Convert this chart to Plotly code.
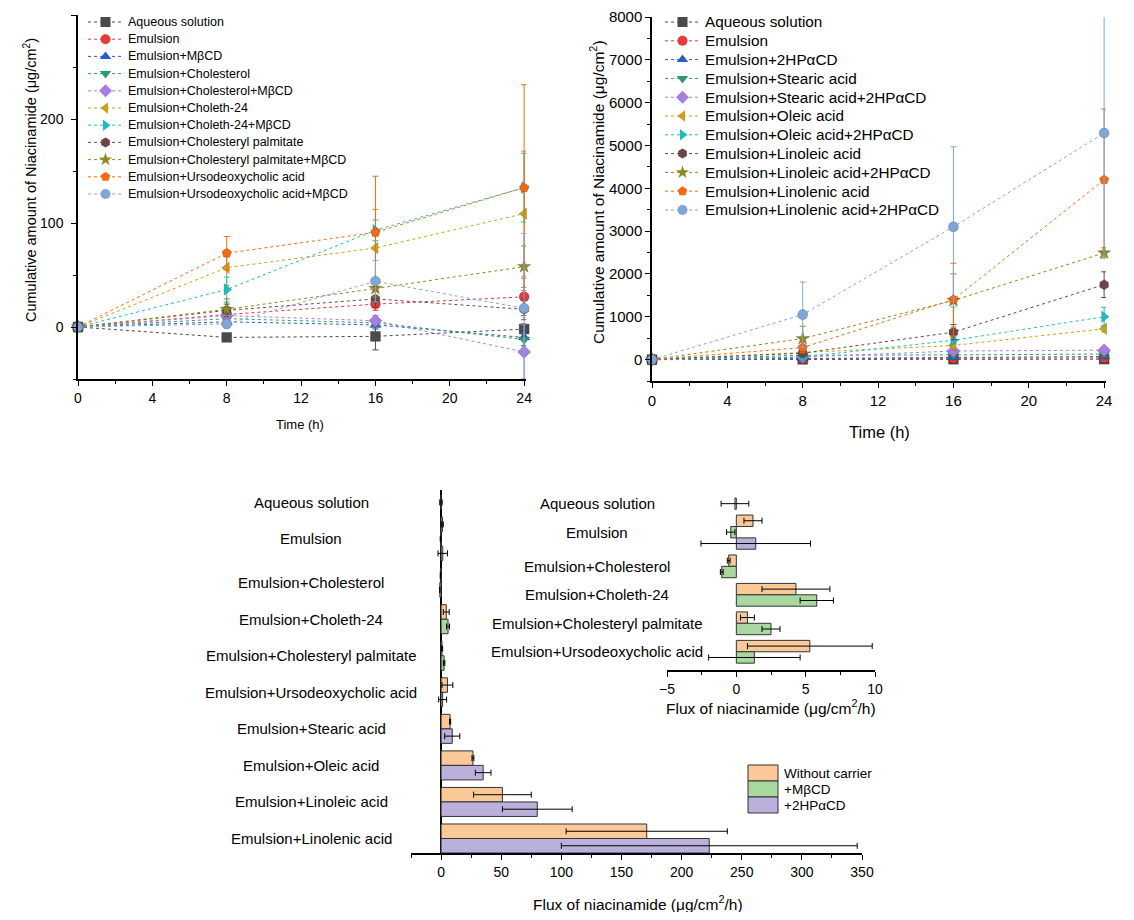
import plotly.graph_objects as go

W, H = 1134, 920          # reference picture size
OFF = 8                   # browser body margin
FW, FH = W - 2 * OFF, H - 2 * OFF
FONT = "Liberation Sans, Arial, Helvetica, sans-serif"

# ------------------------------------------------------------------ data
time_h = [0, 8, 16, 24]

# Top-left panel (cholesterol derivatives, MβCD)
tl_labels = ["Aqueous solution", "Emulsion", "Emulsion+MβCD", "Emulsion+Cholesterol",
             "Emulsion+Cholesterol+MβCD", "Emulsion+Choleth-24", "Emulsion+Choleth-24+MβCD",
             "Emulsion+Cholesteryl palmitate", "Emulsion+Cholesteryl palmitate+MβCD",
             "Emulsion+Ursodeoxycholic acid", "Emulsion+Ursodeoxycholic acid+MβCD"]
tl_aqueous = [0, -10, -9, -2]
tl_emulsion = [0, 12, 22, 29]
tl_mbcd = [0, 5, 2, -10]
tl_chol = [0, 8, 4, -12]
tl_chol_mbcd = [0, 11, 6, -24]
tl_choleth = [0, 57, 76, 109]
tl_choleth_mbcd = [0, 36, 93, 134]
tl_palm = [0, 16, 27, 17]
tl_palm_mbcd = [0, 17, 37, 58]
tl_urso = [0, 71, 91, 134]
tl_urso_mbcd = [0, 3, 44, 18]
tl_aqueous_err = [0, 3, 13, 5]
tl_emulsion_err = [0, 4, 6, 18]
tl_mbcd_err = [0, 3, 4, 8]
tl_chol_err = [0, 3, 5, 6]
tl_chol_mbcd_err = [0, 4, 5, 26]
tl_choleth_err = [0, 17, 37, 60]
tl_choleth_mbcd_err = [0, 12, 10, 33]
tl_palm_err = [0, 6, 8, 10]
tl_palm_mbcd_err = [0, 10, 8, 20]
tl_urso_err = [0, 16, 54, 99]
tl_urso_mbcd_err = [0, 4, 20, 72]

# Top-right panel (fatty acids, 2HPαCD)
tr_labels = ["Aqueous solution", "Emulsion", "Emulsion+2HPαCD", "Emulsion+Stearic acid",
             "Emulsion+Stearic acid+2HPαCD", "Emulsion+Oleic acid", "Emulsion+Oleic acid+2HPαCD",
             "Emulsion+Linoleic acid", "Emulsion+Linoleic acid+2HPαCD",
             "Emulsion+Linolenic acid", "Emulsion+Linolenic acid+2HPαCD"]
tr_aqueous = [0, 5, 8, 10]
tr_emulsion = [0, 20, 30, 40]
tr_hpacd = [0, 30, 50, 70]
tr_stearic = [0, 100, 110, 130]
tr_stearic_hp = [0, 60, 200, 220]
tr_oleic = [0, 170, 330, 720]
tr_oleic_hp = [0, 60, 450, 1000]
tr_linoleic = [0, 150, 640, 1750]
tr_linoleic_hp = [0, 490, 1380, 2490]
tr_linolenic = [0, 280, 1400, 4200]
tr_linolenic_hp = [0, 1050, 3100, 5290]
tr_aqueous_err = [0, 3, 5, 6]
tr_emulsion_err = [0, 8, 10, 15]
tr_hpacd_err = [0, 10, 20, 30]
tr_stearic_err = [0, 20, 30, 40]
tr_stearic_hp_err = [0, 20, 40, 50]
tr_oleic_err = [0, 30, 60, 80]
tr_oleic_hp_err = [0, 20, 80, 220]
tr_linoleic_err = [0, 40, 180, 300]
tr_linoleic_hp_err = [0, 290, 620, 120]
tr_linolenic_err = [0, 120, 850, 1650]
tr_linolenic_hp_err = [0, 760, 1870, 2850]

# Bottom panel (flux)
bar_categories = ["Aqueous solution", "Emulsion", "Emulsion+Cholesterol", "Emulsion+Choleth-24",
                  "Emulsion+Cholesteryl palmitate", "Emulsion+Ursodeoxycholic acid",
                  "Emulsion+Stearic acid", "Emulsion+Oleic acid", "Emulsion+Linoleic acid",
                  "Emulsion+Linolenic acid"]
bar_series = ["Without carrier", "+MβCD", "+2HPαCD"]
flux_none = [-0.1, 1.2, -0.55, 4.3, 0.8, 5.3, 7.5, 26.5, 51, 171]
flux_none_err = [1.0, 0.65, 0.1, 2.45, 0.5, 4.5, 0.5, 0.8, 24, 67]
flux_mbcd = [None, -0.4, -1.05, 5.8, 2.5, 1.3, None, None, None, None]
flux_mbcd_err = [0, 0.3, 0.1, 1.2, 0.65, 3.3, 0, 0, 0, 0]
flux_hpacd = [None, 1.4, None, None, None, None, 9.3, 35, 80, 223]
flux_hpacd_err = [0, 3.95, 0, 0, 0, 0, 6.3, 6.5, 29, 123]
inset_n = 6  # first categories shown in the zoomed inset

# ------------------------------------------------------------------ styles
colors = ["#4a4a4a", "#e8393b", "#2060c8", "#2e9b6a", "#a47fe0", "#cfa015",
          "#1cbfbf", "#6e4646", "#8c8a20", "#f56a10", "#7fa7d6"]
symbols = ["square", "circle", "triangle-up", "triangle-down", "diamond", "triangle-left",
           "triangle-right", "hexagon", "star", "pentagon", "circle"]
bar_colors = ["#fbc897", "#a8d8a0", "#bbb0db"]


def px(x):
    return (x - OFF) / FW


def py(y):
    return 1 - (y - OFF) / FH


fig = go.Figure()

tl_vals = [tl_aqueous, tl_emulsion, tl_mbcd, tl_chol, tl_chol_mbcd, tl_choleth,
           tl_choleth_mbcd, tl_palm, tl_palm_mbcd, tl_urso, tl_urso_mbcd]
tl_errs = [tl_aqueous_err, tl_emulsion_err, tl_mbcd_err, tl_chol_err, tl_chol_mbcd_err,
           tl_choleth_err, tl_choleth_mbcd_err, tl_palm_err, tl_palm_mbcd_err, tl_urso_err,
           tl_urso_mbcd_err]
tr_vals = [tr_aqueous, tr_emulsion, tr_hpacd, tr_stearic, tr_stearic_hp, tr_oleic,
           tr_oleic_hp, tr_linoleic, tr_linoleic_hp, tr_linolenic, tr_linolenic_hp]
tr_errs = [tr_aqueous_err, tr_emulsion_err, tr_hpacd_err, tr_stearic_err, tr_stearic_hp_err,
           tr_oleic_err, tr_oleic_hp_err, tr_linoleic_err, tr_linoleic_hp_err,
           tr_linolenic_err, tr_linolenic_hp_err]

for xa, ya, names, vals, errs in [("x", "y", tl_labels, tl_vals, tl_errs),
                                  ("x2", "y2", tr_labels, tr_vals, tr_errs)]:
    for i, (nm, v, e) in enumerate(zip(names, vals, errs)):
        fig.add_trace(go.Scatter(
            x=time_h, y=v, name=nm, xaxis=xa, yaxis=ya, mode="lines+markers",
            line=dict(color=colors[i], width=1, dash="dot"),
            marker=dict(symbol=symbols[i], size=10, color=colors[i],
                        line=dict(width=0.5, color="rgba(0,0,0,0.35)")),
            error_y=dict(type="data", array=e, color=colors[i], thickness=1, width=3),
            showlegend=False, cliponaxis=False))


# ---- bar layout positions (computed from which values exist) ----
def bar_layout(series_vals, ncat, gap):
    pos = [[None] * ncat for _ in series_vals]
    centers = []
    cursor = 0.0
    for i in range(ncat):
        k = 0
        for s, vals in enumerate(series_vals):
            if vals[i] is not None:
                pos[s][i] = cursor + k + 0.5
                k += 1
        centers.append(cursor + k / 2)
        cursor += k + gap
    return pos, centers, cursor - gap


flux_vals = [flux_none, flux_mbcd, flux_hpacd]
flux_errs = [flux_none_err, flux_mbcd_err, flux_hpacd_err]
main_pos, main_centers, main_total = bar_layout(flux_vals, len(bar_categories), 0.52)
ins_vals = [v[:inset_n] for v in flux_vals]
ins_pos, ins_centers, ins_total = bar_layout(ins_vals, inset_n, 0.5)

for s in range(3):
    fig.add_trace(go.Bar(
        x=flux_vals[s], y=main_pos[s], orientation="h", width=1, name=bar_series[s],
        xaxis="x3", yaxis="y3",
        marker=dict(color=bar_colors[s], line=dict(color="#333333", width=1)),
        error_x=dict(type="data", array=flux_errs[s], color="black", thickness=1, width=3),
        showlegend=False))
    fig.add_trace(go.Bar(
        x=ins_vals[s], y=ins_pos[s], orientation="h", width=1, name=bar_series[s],
        xaxis="x4", yaxis="y4",
        marker=dict(color=bar_colors[s], line=dict(color="#333333", width=1)),
        error_x=dict(type="data", array=flux_errs[s][:inset_n], color="black",
                     thickness=1, width=3),
        showlegend=False))


# ------------------------------------------------------------------ axes
def ax(size, **kw):
    d = dict(showline=True, linecolor="black", linewidth=1.5, ticks="outside", ticklen=5,
             tickwidth=1.2, tickcolor="black", showgrid=False, zeroline=False,
             tickfont=dict(family=FONT, size=size, color="black"), automargin=False,
             fixedrange=True)
    d.update(kw)
    return d


def minor(dt):
    return dict(ticks="outside", ticklen=3, tickwidth=1, tickcolor="black", dtick=dt,
                showgrid=False)


fig.update_layout(
    xaxis=ax(14, domain=[px(78), px(526)], range=[0, 24.1], anchor="y", tick0=0, dtick=4,
             minor=minor(2)),
    yaxis=ax(14, domain=[py(379), py(15)], range=[-50, 300], anchor="x", tick0=0, dtick=100,
             minor=minor(50), ticklabelstandoff=5),
    xaxis2=ax(15, domain=[px(652), px(1106)], range=[0, 24.1], anchor="y2", tick0=0, dtick=4,
              minor=minor(2)),
    yaxis2=ax(15, domain=[py(381), py(17)], range=[-500, 8000], anchor="x2", tick0=0,
              dtick=1000, minor=minor(500)),
    xaxis3=ax(14, domain=[px(411), px(862)], range=[-25, 350], anchor="y3", tick0=0,
              dtick=50, minor=minor(25), zeroline=True, zerolinecolor="black",
              zerolinewidth=1.5),
    yaxis3=dict(domain=[py(853), py(490)], range=[main_total, -0.35], anchor="x3",
                visible=False, fixedrange=True),
    xaxis4=ax(14, domain=[px(667), px(875)], range=[-5, 10], anchor="y4", tick0=0, dtick=5,
              minor=minor(2.5)),
    yaxis4=dict(domain=[py(670), py(490)], range=[ins_total + 0.6, -0.7], anchor="x4",
                visible=False, fixedrange=True),
    xaxis5=dict(domain=[0, 1], range=[OFF, OFF + FW], anchor="y5", visible=False,
                fixedrange=True),
    yaxis5=dict(domain=[0, 1], range=[OFF + FH, OFF], anchor="x5", visible=False,
                fixedrange=True),
    barmode="overlay",
    width=FW, height=FH,
    margin=dict(l=0, r=0, t=0, b=0),
    paper_bgcolor="white", plot_bgcolor="rgba(0,0,0,0)",
    showlegend=False,
    font=dict(family=FONT, color="black"),
)

ann = []


def text(x, y, t, size, angle=0, xanchor="center", xref="paper", yref="paper"):
    ann.append(dict(x=x, y=y, xref=xref, yref=yref, text=t, showarrow=False,
                    font=dict(family=FONT, size=size, color="black"), textangle=angle,
                    xanchor=xanchor, yanchor="middle"))


# axis titles
text(px(30), py(180), "Cumulative amount of Niacinamide (μg/cm<sup>2</sup>)", 14.5, angle=-90)
text(px(300), py(424), "Time (h)", 13)
text(px(597), py(192), "Cumulative amount of Niacinamide (μg/cm<sup>2</sup>)", 15.5, angle=-90)
text(px(879), py(432), "Time (h)", 16.5)
text(px(638), py(903), "Flux of niacinamide (μg/cm<sup>2</sup>/h)", 15.5)
text(px(771), py(707), "Flux of niacinamide (μg/cm<sup>2</sup>/h)", 15.5)

# category labels (centred, as in the original)
for c, yc in zip(bar_categories, main_centers):
    text(px(311), yc, c, 15, yref="y3")
for c, yc in zip(bar_categories[:inset_n], ins_centers):
    text(px(597), yc, c, 15, yref="y4")

# ------------------------------------------------------------------ legends (drawn)
for names, x0, y0, dy, fs in [(tl_labels, 88, 22, 17.2, 12.5), (tr_labels, 665, 22, 18.8, 15.3)]:
    for i, nm in enumerate(names):
        yy = y0 + i * dy
        fig.add_trace(go.Scatter(x=[x0, x0 + 35], y=[yy, yy], mode="lines", xaxis="x5",
                                 yaxis="y5", line=dict(color=colors[i], width=1, dash="dot"),
                                 showlegend=False, hoverinfo="skip"))
        fig.add_trace(go.Scatter(x=[x0 + 17.5], y=[yy], mode="markers", xaxis="x5",
                                 yaxis="y5",
                                 marker=dict(symbol=symbols[i], size=10, color=colors[i]),
                                 showlegend=False, hoverinfo="skip"))
        text(px(x0 + 38), py(yy), nm, fs, xanchor="left")

shapes = []
for s, nm in enumerate(bar_series):
    top = 765 + s * 16
    shapes.append(dict(type="rect", xref="paper", yref="paper", x0=px(748), x1=px(778),
                       y0=py(top + 16), y1=py(top), fillcolor=bar_colors[s],
                       line=dict(color="#333333", width=1)))
    text(px(782), py(top + 8), nm, 13.5, xanchor="left")

fig.update_layout(annotations=ann, shapes=shapes)
fig.write_html("out.html")
